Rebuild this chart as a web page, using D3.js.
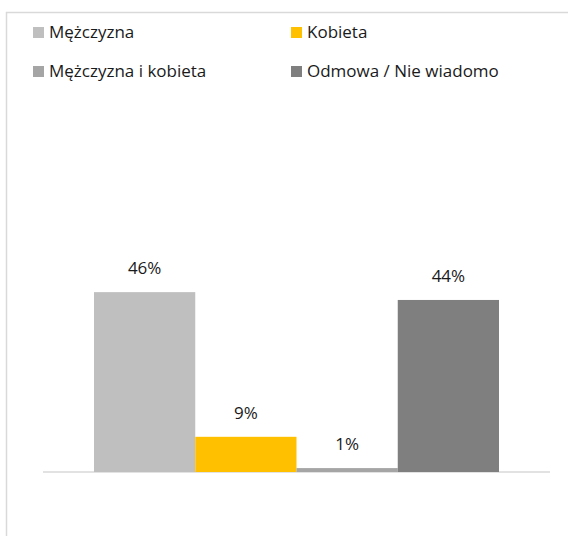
<!DOCTYPE html>
<html>
<head>
<meta charset="utf-8">
<script src="https://cdn.jsdelivr.net/npm/d3@7"></script>
<style>
  body { margin: 0; background: #fff; }
  text { font-family: "Open Sans", sans-serif; }
</style>
</head>
<body>
<div id="chart"></div>
<script>
// data
var categories = ["Mężczyzna", "Kobieta", "Mężczyzna i kobieta", "Odmowa / Nie wiadomo"];
var values = [0.46, 0.09, 0.01, 0.44];
var labels = ["46%", "9%", "1%", "44%"];
var colors = ["#bfbfbf", "#ffc000", "#a5a5a5", "#7f7f7f"];

var width = 568, height = 536;

var svg = d3.select("#chart").append("svg")
  .attr("width", width)
  .attr("height", height);

// chart area border (runs off the picture on right and bottom)
svg.append("rect")
  .attr("x", 6.5).attr("y", 12.5)
  .attr("width", 600).attr("height", 600)
  .attr("fill", "#fff")
  .attr("stroke", "#d9d9d9")
  .attr("stroke-width", 1.5);

// scales
var x = d3.scaleBand()
  .domain(categories)
  .range([94, 499])
  .paddingInner(0)
  .paddingOuter(0);

var y = d3.scaleLinear()
  .domain([0, 0.5])
  .range([472, 276.5]);

// axis baseline
svg.append("line")
  .attr("x1", 43).attr("x2", 550)
  .attr("y1", y(0)).attr("y2", y(0))
  .attr("stroke", "#d9d9d9")
  .attr("stroke-width", 1.5);

svg.selectAll("rect.bar")
  .data(values)
  .enter().append("rect")
  .attr("class", "bar")
  .attr("x", function(d, i) { return x(categories[i]); })
  .attr("width", x.bandwidth())
  .attr("y", function(d) { return y(d); })
  .attr("height", function(d) { return y(0) - y(d); })
  .attr("fill", function(d, i) { return colors[i]; });

svg.selectAll("text.val")
  .data(values)
  .enter().append("text")
  .attr("class", "val")
  .attr("x", function(d, i) { return x(categories[i]) + x.bandwidth() / 2; })
  .attr("y", function(d) { return y(d) - 18; })
  .attr("text-anchor", "middle")
  .attr("font-size", 17)
  .attr("fill", "#1a1a1a")
  .text(function(d, i) { return labels[i]; });

// legend, 2 columns
var legend = svg.selectAll("g.legend")
  .data(categories)
  .enter().append("g")
  .attr("class", "legend")
  .attr("transform", function(d, i) {
    var col = i % 2, row = Math.floor(i / 2);
    return "translate(" + (col === 0 ? 33 : 291) + "," + (27 + row * 39) + ")";
  });

legend.append("rect")
  .attr("width", 11).attr("height", 11)
  .attr("fill", function(d, i) { return colors[i]; });

legend.append("text")
  .attr("x", 16)
  .attr("y", 11)
  .attr("font-size", 17)
  .attr("fill", "#1a1a1a")
  .text(function(d) { return d; });
</script>
</body>
</html>
